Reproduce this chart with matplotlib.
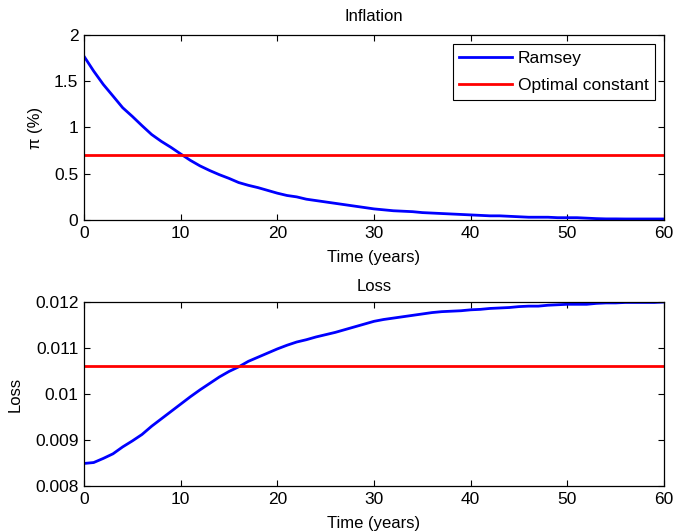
import matplotlib
matplotlib.use("Agg")
import matplotlib.pyplot as plt
import numpy as np

plt.rcParams['font.family'] = ['Liberation Sans', 'DejaVu Sans']
plt.rcParams['font.size'] = 12

years = list(range(0, 61))
inflation_ramsey = [1.77, 1.61, 1.465, 1.34, 1.214, 1.12, 1.02, 0.924, 0.85, 0.785, 0.714,
                    0.645, 0.585, 0.535, 0.49, 0.45, 0.405, 0.375, 0.35, 0.32, 0.29,
                    0.265, 0.25, 0.225, 0.21, 0.195, 0.18, 0.165, 0.15, 0.135, 0.12,
                    0.11, 0.1, 0.095, 0.09, 0.08, 0.075, 0.07, 0.065, 0.06, 0.055,
                    0.05, 0.045, 0.045, 0.04, 0.035, 0.03, 0.03, 0.03, 0.025, 0.025,
                    0.025, 0.02, 0.015, 0.012, 0.012, 0.011, 0.011, 0.011, 0.011, 0.011]
inflation_const = 0.70

loss_ramsey = [0.00849, 0.00851, 0.00860, 0.00870, 0.00885, 0.00898, 0.00912, 0.00930,
               0.00946, 0.00962, 0.00978, 0.00994, 0.01009, 0.01023, 0.01037, 0.01049,
               0.01059, 0.01071, 0.01080, 0.01089, 0.01098, 0.01106, 0.01113, 0.01118,
               0.01124, 0.01129, 0.01134, 0.01140, 0.01146, 0.01152, 0.01158, 0.01162,
               0.01165, 0.01168, 0.01171, 0.01174, 0.01177, 0.01179, 0.01180, 0.01181,
               0.01183, 0.01184, 0.01186, 0.01187, 0.01188, 0.01190, 0.01191, 0.01191,
               0.01193, 0.01194, 0.01195, 0.01195, 0.01195, 0.01197, 0.01198, 0.01198,
               0.01199, 0.01199, 0.01199, 0.01199, 0.01200]
loss_const = 0.0106

fig = plt.figure(figsize=(6.75, 5.32), dpi=100)
W, H = 675, 532
ax1 = fig.add_axes([84 / W, 1 - 220 / H, 580 / W, 185 / H])
ax2 = fig.add_axes([84 / W, 1 - 486 / H, 580 / W, 184 / H])

for ax in (ax1, ax2):
    ax.tick_params(direction='in', top=True, right=True, length=4, width=0.8, pad=4,
                   labelsize=12.5)
    for s in ax.spines.values():
        s.set_linewidth(0.9)
    ax.set_xlim(0, 60)
    ax.set_xticks([0, 10, 20, 30, 40, 50, 60])

ax1.plot(years, inflation_ramsey, color='#0000ff', lw=2.0, label='Ramsey')
ax1.plot([0, 60], [inflation_const, inflation_const], color='#ff0000', lw=2.0,
         label='Optimal constant')
ax1.set_ylim(0, 2)
ax1.set_yticks([0, 0.5, 1, 1.5, 2])
ax1.set_yticklabels(['0', '0.5', '1', '1.5', '2'])
ax1.set_title('Inflation', fontsize=12, pad=10)
ax1.set_xlabel('Time (years)', labelpad=7)
ax1.set_ylabel('π (%)')
ax1.yaxis.set_label_coords((43 - 84) / 580, 0.5)
leg = ax1.legend(loc='upper right', fancybox=False, edgecolor='black', framealpha=1,
                 handlelength=3.0, borderaxespad=0.5, labelspacing=0.7,
                 handletextpad=0.35, borderpad=0.4, fontsize=12.5)
leg.get_frame().set_linewidth(0.8)

ax2.plot(years, loss_ramsey, color='#0000ff', lw=2.0)
ax2.plot([0, 60], [loss_const, loss_const], color='#ff0000', lw=2.0)
ax2.set_ylim(0.008, 0.012)
ax2.set_yticks([0.008, 0.009, 0.010, 0.011, 0.012])
ax2.set_yticklabels(['0.008', '0.009', '0.01', '0.011', '0.012'])
ax2.set_title('Loss', fontsize=12, pad=8)
ax2.set_xlabel('Time (years)', labelpad=7)
ax2.set_ylabel('Loss')
ax2.yaxis.set_label_coords((23 - 84) / 580, 0.5)

fig.savefig('out.png', dpi=100)
